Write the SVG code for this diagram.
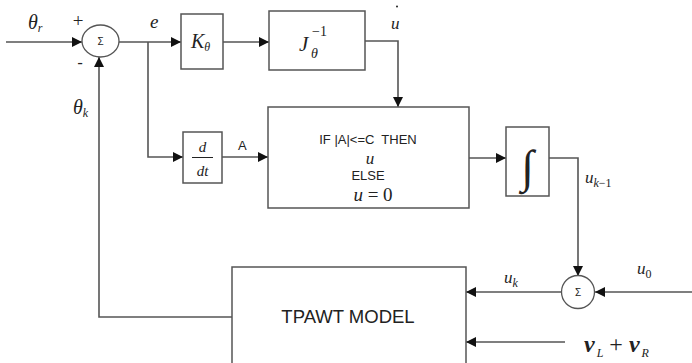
<svg xmlns="http://www.w3.org/2000/svg" width="692" height="363" viewBox="0 0 692 363">
  <defs>
    <marker id="arr" viewBox="0 0 10 10" refX="10" refY="5" markerWidth="13" markerHeight="10" markerUnits="userSpaceOnUse" orient="auto">
      <path d="M0,0 L10,5 L0,10 z" fill="#111"/>
    </marker>
    <style>
      .box { fill: #fff; stroke: #555; stroke-width: 1.5; }
      .sum { fill: #fff; stroke: #555; stroke-width: 1.3; }
      .wire { fill: none; stroke: #555; stroke-width: 1.6; }
      .math { font-family: "Liberation Serif", "DejaVu Serif", serif; font-style: italic; fill: #222; }
      .num { font-family: "Liberation Serif", "DejaVu Serif", serif; fill: #222; }
      .sans { font-family: "Liberation Sans", Arial, sans-serif; fill: #222; }
    </style>
  </defs>

  <rect width="692" height="363" fill="#fff"/>

  <!-- connectors -->
  <g id="connectors">
    <path class="wire" d="M6,42 H82" marker-end="url(#arr)"/>
    <path class="wire" d="M119,42 H181" marker-end="url(#arr)"/>
    <path class="wire" d="M223,42 H269" marker-end="url(#arr)"/>
    <path class="wire" d="M365,41 H398 V107" marker-end="url(#arr)"/>
    <path class="wire" d="M148,42 V157 H183" marker-end="url(#arr)"/>
    <path class="wire" d="M222,157 H268" marker-end="url(#arr)"/>
    <path class="wire" d="M469,158 H506" marker-end="url(#arr)"/>
    <path class="wire" d="M545,158 H578 V276" marker-end="url(#arr)"/>
    <path class="wire" d="M692,292 H595" marker-end="url(#arr)"/>
    <path class="wire" d="M561,292 H466" marker-end="url(#arr)"/>
    <path class="wire" d="M565,342 H466" marker-end="url(#arr)"/>
    <path class="wire" d="M232,317 H99 V57" marker-end="url(#arr)"/>
  </g>

  <!-- summing junction at the reference input -->
  <g id="sum1">
    <ellipse class="sum" cx="100.5" cy="41" rx="18.5" ry="16"/>
    <text class="sans" x="100.5" y="45" font-size="10" text-anchor="middle">Σ</text>
    <text class="num" x="78" y="27" font-size="19" text-anchor="middle">+</text>
    <text class="sans" x="80" y="68" font-size="17" text-anchor="middle">-</text>
  </g>

  <g id="gainK">
    <rect class="box" x="181" y="14" width="42" height="55"/>
    <text class="math" x="191" y="48" font-size="20">K<tspan font-size="12" dy="3">θ</tspan></text>
  </g>

  <g id="jacobian">
    <rect class="box" x="269" y="11" width="96" height="59"/>
    <text class="math" x="299" y="51" font-size="21">J</text>
    <text class="num" x="312" y="36" font-size="14">−1</text>
    <text class="math" x="311" y="58" font-size="14">θ</text>
  </g>

  <g id="deriv">
    <rect class="box" x="183" y="132" width="39" height="51"/>
    <text class="math" x="202.5" y="152" font-size="15" text-anchor="middle">d</text>
    <line x1="192" y1="157.5" x2="213" y2="157.5" stroke="#222" stroke-width="1"/>
    <text class="math" x="202.5" y="176" font-size="15" text-anchor="middle">dt</text>
  </g>

  <g id="switch">
    <rect class="box" x="268" y="107" width="201" height="101"/>
    <text class="sans" x="368" y="144" font-size="13" text-anchor="middle" xml:space="preserve">IF |A|&lt;=C  THEN</text>
    <text class="math" x="370" y="164" font-size="17" text-anchor="middle">u</text>
    <text class="sans" x="368" y="180" font-size="13" text-anchor="middle">ELSE</text>
    <text class="math" x="373" y="201" font-size="19" text-anchor="middle">u<tspan font-style="normal"> = 0</tspan></text>
  </g>

  <g id="integrator">
    <rect class="box" x="506" y="127" width="43" height="69"/>
    <text class="math" x="527.5" y="182" font-size="46" text-anchor="middle">∫</text>
  </g>

  <!-- summing junction for the nominal input -->
  <g id="sum2">
    <circle class="sum" cx="578" cy="292" r="16.5"/>
    <text class="sans" x="578" y="296" font-size="10" text-anchor="middle">Σ</text>
  </g>

  <g id="plant">
    <rect class="box" x="232" y="267" width="234" height="110"/>
    <text class="sans" x="348" y="323" font-size="18.5" text-anchor="middle">TPAWT MODEL</text>
  </g>

  <!-- signal labels -->
  <g id="labels">
    <text class="math" x="28" y="29" font-size="20">θ<tspan font-size="12" dy="3">r</tspan></text>
    <text class="math" x="150" y="28" font-size="19">e</text>
    <text class="math" x="73" y="114" font-size="20">θ<tspan font-size="12" dy="3">k</tspan></text>
    <text class="math" x="391" y="29" font-size="17">u</text>
    <circle cx="397" cy="6.5" r="1" fill="#222"/>
    <text class="sans" x="238" y="150" font-size="13">A</text>
    <text class="math" x="585" y="183" font-size="17">u<tspan font-size="12" dy="4">k</tspan><tspan font-size="12" font-style="normal">−1</tspan></text>
    <text class="math" x="504" y="283" font-size="17">u<tspan font-size="12" dy="4">k</tspan></text>
    <text class="math" x="637" y="274" font-size="17">u<tspan font-size="12" font-style="normal" dy="4">0</tspan></text>
    <text class="num" x="584" y="352" font-size="24" font-weight="bold" font-style="italic">v<tspan font-size="12" font-weight="normal" dy="5" dx="2">L</tspan><tspan font-weight="normal" font-style="normal" dy="-5" dx="6">+</tspan><tspan dx="6">v</tspan><tspan font-size="12" font-weight="normal" dy="5" dx="2">R</tspan></text>
  </g>
</svg>
